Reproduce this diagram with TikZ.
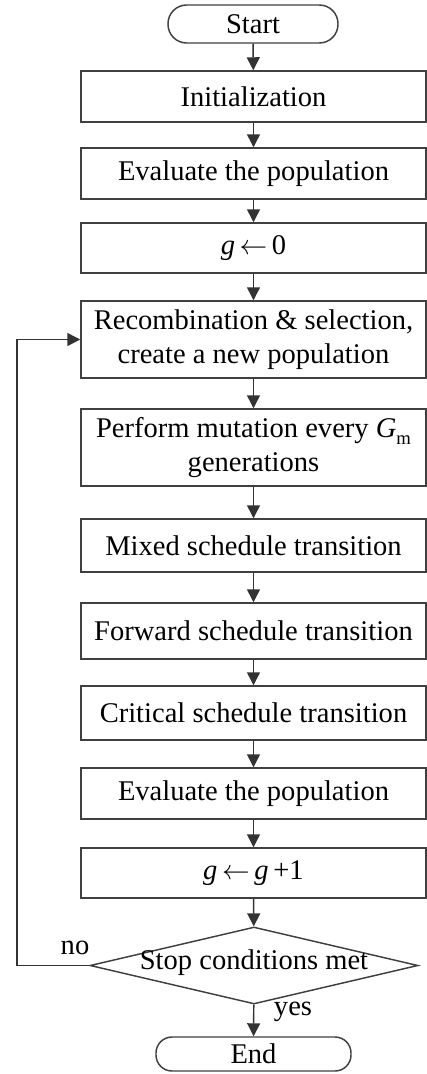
\documentclass[tikz,border=0pt]{standalone}
\usepackage{fontspec}
\setmainfont{Liberation Serif}
\usetikzlibrary{shapes.geometric,arrows.meta}
\begin{document}
\begin{tikzpicture}[x=0.75pt,y=-0.75pt,
  line width=1.1pt,
  font=\fontsize{21.4}{25.5}\selectfont,
  procbox/.style={draw=black!75, rectangle, inner sep=0pt, align=center,
    minimum width=258.75pt, minimum height=#1*0.75pt},
  arr/.style={draw=black!80, -{Triangle[length=9.75pt,width=9.75pt]}},
  lbl/.style={inner sep=0pt}
]
\useasboundingbox (0,0) rectangle (427,1074);
\node[draw=black!75, rounded corners=14pt, minimum width=127.5pt, minimum height=28.5pt, inner sep=0pt] (start) at (253,24) {Start};
\node[procbox=51] (init) at (253.5,96.5) {Initialization};
\node[procbox=51] (eval1) at (253.5,173.5) {Evaluate the population};
\node[procbox=50] (g0) at (253.5,248) {\textit{g}$\,\leftarrow\,$0};
\node[procbox=77] (recomb) at (253.5,339.5) {Recombination \& selection,\\create a new population};
\node[procbox=77] (mut) at (253.5,447.5) {Perform mutation every \textit{G}\raisebox{-0.25em}{\fontsize{14}{14}\selectfont m}\\generations};
\node[procbox=53] (mixed) at (253.5,545.5) {Mixed schedule transition};
\node[procbox=56] (fwd) at (253.5,631) {Forward schedule transition};
\node[procbox=54] (crit) at (253.5,713) {Critical schedule transition};
\node[procbox=51] (eval2) at (253.5,793.5) {Evaluate the population};
\node[procbox=50] (ginc) at (253.5,873) {\textit{g}$\,\leftarrow\,$\textit{g}\,+1};
\node[diamond, draw=black!75, minimum width=246pt, minimum height=57.75pt, inner sep=0pt] (stop) at (254,965.5) {};
\node[lbl] (stoptext) at (254,963) {Stop conditions met};
\node[draw=black!75, rounded corners=12pt, minimum width=146.25pt, minimum height=25.5pt, inner sep=0pt] (end) at (253.5,1054) {End};
\coordinate (fb) at (17,965.5);
\node[lbl] (no) at (75,948) {no};
\node[lbl] (yes) at (293,1012) {yes};

\draw[arr] (start) -- (init);
\draw[arr] (init) -- (eval1);
\draw[arr] (eval1) -- (g0);
\draw[arr] (g0) -- (recomb);
\draw[arr] (recomb) -- (mut);
\draw[arr] (mut) -- (mixed);
\draw[arr] (mixed) -- (fwd);
\draw[arr] (fwd) -- (crit);
\draw[arr] (crit) -- (eval2);
\draw[arr] (eval2) -- (ginc);
\draw[arr] (ginc) -- (stop);
\draw[arr] (stop) -- (end);
\draw[arr] (stop.west) -- (fb) |- (recomb.west);
\end{tikzpicture}
\end{document}
